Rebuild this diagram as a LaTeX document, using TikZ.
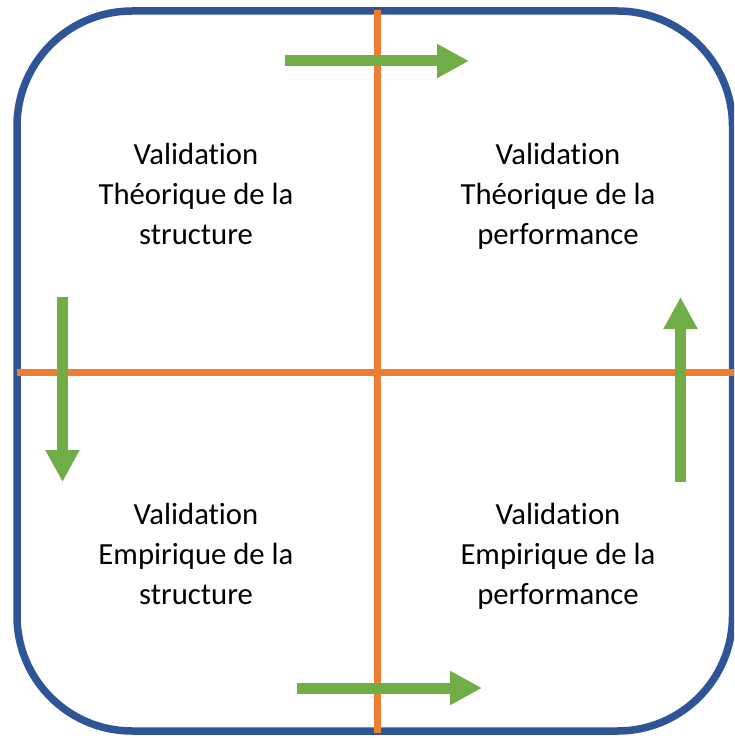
\documentclass[tikz,border=0pt]{standalone}
\usepackage{fontspec}
\setmainfont{Carlito}[Ligatures=NoCommon]
\usetikzlibrary{arrows.meta}
\definecolor{frameblue}{HTML}{2F5597}
\definecolor{axisorange}{HTML}{ED7D31}
\definecolor{arrowgreen}{HTML}{70AD47}
\tikzset{
  quadtext/.style={align=center, font=\fontsize{30.7}{40}\selectfont, text=black, inner sep=0pt, anchor=north},
  axis/.style={draw=axisorange, line width=7pt},
  flow/.style={draw=arrowgreen, line width=11pt, -{Triangle[width=32pt,length=32pt]}},
}
\begin{document}
\begin{tikzpicture}[x=1pt,y=-1pt]
\useasboundingbox (0,0) rectangle (734,738);
\clip (0,0) rectangle (734,738);
\draw[frameblue, line width=7.5pt, rounded corners=115pt] (17,11) rectangle (732.5,731);
% axes
\coordinate (vtop) at (377.5,10);
\coordinate (vbot) at (377.5,733);
\coordinate (hleft) at (17,372.5);
\coordinate (hright) at (740,372.5);
\draw[axis] (vtop) -- (vbot);
\draw[axis] (hleft) -- (hright);
% arrows
\coordinate (a1s) at (285,61);   \coordinate (a1e) at (469,61);
\coordinate (a2s) at (62.5,297); \coordinate (a2e) at (62.5,482);
\coordinate (a3s) at (680.5,482);\coordinate (a3e) at (680.5,297);
\coordinate (a4s) at (297,688);  \coordinate (a4e) at (482,688);
\draw[flow] (a1s) -- (a1e);
\draw[flow] (a2s) -- (a2e);
\draw[flow] (a3s) -- (a3e);
\draw[flow] (a4s) -- (a4e);
% texts
\node[quadtext] (ts) at (196,143) {Validation\\Théorique de la\\structure};
\node[quadtext] (tp) at (558,143) {Validation\\Théorique de la\\performance};
\node[quadtext] (es) at (196,503) {Validation\\Empirique de la\\structure};
\node[quadtext] (ep) at (558,503) {Validation\\Empirique de la\\performance};
\end{tikzpicture}
\end{document}
